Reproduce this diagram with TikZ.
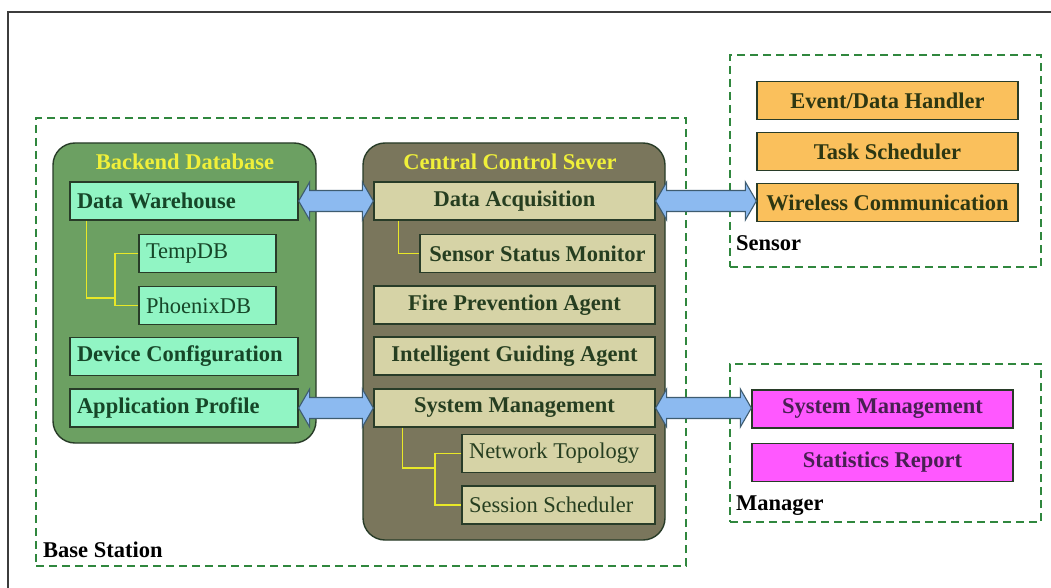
\documentclass[tikz,border=0pt]{standalone}
\usepackage{fontspec}
\setmainfont{Liberation Serif}
\usetikzlibrary{calc}

\definecolor{framegray}{RGB}{60,60,60}
\definecolor{dashgreen}{RGB}{48,135,62}
\definecolor{dbfill}{RGB}{108,160,98}
\definecolor{ccsfill}{RGB}{122,118,92}
\definecolor{edgedark}{RGB}{40,60,40}
\definecolor{mint}{RGB}{145,245,196}
\definecolor{beige}{RGB}{214,211,166}
\definecolor{sensorange}{RGB}{250,192,92}
\definecolor{mgrpink}{RGB}{255,88,255}
\definecolor{mintink}{RGB}{22,70,40}
\definecolor{beigeink}{RGB}{38,62,32}
\definecolor{orangeink}{RGB}{45,55,18}
\definecolor{pinkink}{RGB}{72,32,82}
\definecolor{titleyellow}{RGB}{240,240,58}
\definecolor{treeyellow}{RGB}{232,232,40}
\definecolor{arrowblue}{RGB}{140,186,240}
\definecolor{arrowedge}{RGB}{62,92,112}

\newcommand\txtsize{\fontsize{22.5}{25}\selectfont}
% left-set text inside a fixed-width box
\newcommand\lefttext[2]{\makebox[#1][l]{#2}}

\tikzset{
  x=1pt, y=-1pt,
  dashbox/.style={draw=dashgreen, line width=2.2pt, dash pattern=on 8pt off 5pt},
  container/.style={draw=edgedark, line width=1.4pt, rounded corners=22pt, inner sep=0pt},
  boxbase/.style={draw=edgedark, line width=1.3pt, minimum height=38pt, inner sep=0pt, font=\txtsize},
  mintbox/.style={boxbase, fill=mint, text=mintink},
  beigebox/.style={boxbase, fill=beige, text=beigeink, font=\txtsize\bfseries},
  beigeplain/.style={boxbase, fill=beige, text=beigeink},
  orangebox/.style={boxbase, fill=sensorange, text=orangeink, font=\txtsize\bfseries, minimum width=261pt},
  pinkbox/.style={boxbase, fill=mgrpink, text=pinkink, font=\txtsize\bfseries, minimum width=261pt},
  title/.style={text=titleyellow, font=\txtsize\bfseries, inner sep=0pt},
  grouplabel/.style={text=black, font=\txtsize\bfseries, inner sep=0pt, anchor=west},
  tree/.style={draw=treeyellow, line width=1.4pt},
  blarrow/.style={draw=arrowedge, line width=1.1pt, fill=arrowblue, line join=miter},
}

% horizontal double-headed block arrow from one anchor to another
\newcommand\blockarrow[2]{%
  \path[blarrow] let \p1=(#1), \p2=(#2) in
    (\p1) -- (\x1+11pt,\y1+19pt) -- (\x1+11pt,\y1+10.5pt)
    -- (\x2-11pt,\y1+10.5pt) -- (\x2-11pt,\y1+19pt) -- (\x2,\y1)
    -- (\x2-11pt,\y1-19pt) -- (\x2-11pt,\y1-10.5pt)
    -- (\x1+11pt,\y1-10.5pt) -- (\x1+11pt,\y1-19pt) -- cycle;}

\begin{document}
\begin{tikzpicture}
\useasboundingbox (0,0) rectangle (1051,588);
\fill[white] (0,0) rectangle (1051,588);

% page frame
\draw[framegray, line width=2.4pt] (8,588) -- (8,12) -- (1051,12);

% dashed group outlines
\node[dashbox, minimum width=650pt, minimum height=448pt, inner sep=0pt] (base) at (361,342) {};
\node[dashbox, minimum width=311pt, minimum height=212pt, inner sep=0pt] (sensor) at (885.5,161) {};
\node[dashbox, minimum width=311pt, minimum height=158pt, inner sep=0pt] (manager) at (885.5,443) {};
\node[grouplabel] (baselbl) at (43,550) {Base Station};
\node[grouplabel] (sensorlbl) at (736,243) {Sensor};
\node[grouplabel] (managerlbl) at (736,506) {Manager};

% containers
\node[container, fill=dbfill, minimum width=263pt, minimum height=300pt] (db) at (184.5,293) {};
\node[container, fill=ccsfill, minimum width=302pt, minimum height=397pt] (ccs) at (514,341.5) {};
\node[title] (dbtitle) at (185,162) {Backend Database};
\node[title] (ccstitle) at (510,162) {Central Control Sever};

% backend database
\node[mintbox, minimum width=228pt, font=\txtsize\bfseries] (dw) at (184,201) {\lefttext{214pt}{Data Warehouse}};
\node[mintbox, minimum width=137pt] (tempdb) at (207.5,253.5) {\lefttext{123pt}{TempDB}};
\node[mintbox, minimum width=137pt] (phoenix) at (207.5,305.5) {\lefttext{123pt}{PhoenixDB}};
\node[mintbox, minimum width=228pt, font=\txtsize\bfseries] (devconf) at (184,356.5) {\lefttext{214pt}{Device Configuration}};
\node[mintbox, minimum width=228pt, font=\txtsize\bfseries] (appprof) at (184,408) {\lefttext{214pt}{Application Profile}};

% central control server
\node[beigebox, minimum width=281pt] (da) at (514.5,201) {Data Acquisition};
\node[beigebox, minimum width=235pt] (ssm) at (537.5,253.5) {Sensor Status Monitor};
\node[beigebox, minimum width=281pt] (fpa) at (514.5,305) {Fire Prevention Agent};
\node[beigebox, minimum width=281pt] (iga) at (514.5,356) {Intelligent Guiding Agent};
\node[beigebox, minimum width=281pt] (sm) at (514.5,408) {System Management};
\node[beigeplain, minimum width=193pt] (nt) at (558.5,453.5) {\lefttext{179pt}{Network Topology}};
\node[beigeplain, minimum width=193pt] (ss) at (558.5,505) {\lefttext{179pt}{Session Scheduler}};

% sensor
\node[orangebox] (edh) at (887.5,100.5) {Event/Data Handler};
\node[orangebox] (ts) at (887.5,151.5) {Task Scheduler};
\node[orangebox] (wc) at (887.5,202.5) {Wireless Communication};

% manager
\node[pinkbox] (msm) at (882.5,409) {System Management};
\node[pinkbox] (sr) at (882.5,462.5) {Statistics Report};

% tree connectors
\coordinate (dwj) at (115,298);
\draw[tree] ($(dw.south west)+(17,0)$) |- (dwj);
\draw[tree] (tempdb.west) -| (dwj) |- (phoenix.west);
\draw[tree] ($(da.south west)+(25,0)$) |- (ssm.west);
\coordinate (smj) at (435,468);
\draw[tree] ($(sm.south west)+(29,0)$) |- (smj);
\draw[tree] (nt.west) -| (smj) |- (ss.west);

% data links
\blockarrow{dw.east}{da.west}
\blockarrow{da.east}{wc.west}
\blockarrow{appprof.east}{sm.west}
\blockarrow{sm.east}{msm.west}
\end{tikzpicture}
\end{document}
